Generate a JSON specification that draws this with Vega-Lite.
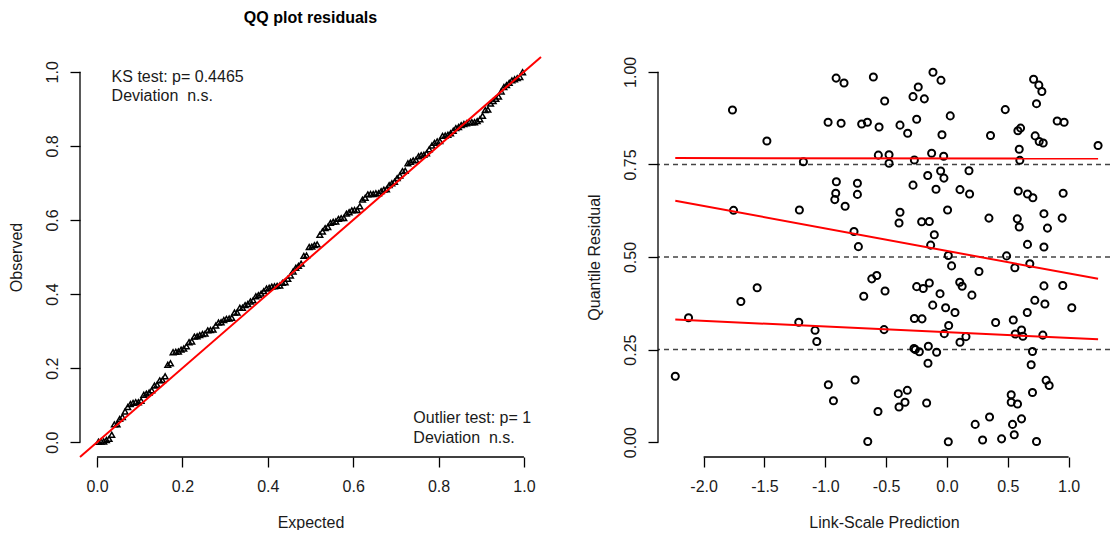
{
"$schema":"https://vega.github.io/schema/vega-lite/v6.json",
"padding":{"left":8,"top":10,"right":0,"bottom":0},
"background":"white",
"bounds":"flush",
"spacing":117,
"config":{
 "view":{"stroke":null},
 "font":"Liberation Sans",
 "axis":{"grid":false,"domain":false,"tickColor":"#000","tickWidth":1.3,"tickSize":10,"labelFont":"Liberation Sans","labelFontSize":16,"labelColor":"#1a1a1a","titleFont":"Liberation Sans","titleFontSize":16,"titleFontWeight":"normal","titleColor":"#1a1a1a","labelFlush":false,"labelOverlap":false},
 "axisX":{"labelPadding":11,"titlePadding":20},
 "axisY":{"labelAngle":270,"labelAlign":"center","labelBaseline":"middle","labelPadding":18,"titleAngle":270,"titlePadding":20},
 "title":{"font":"Liberation Sans","fontSize":16,"fontWeight":"bold","color":"#000"}
},
"datasets":{
"one":[{}],
"qq":[{"e":0.0031,"o":0.001},{"e":0.0094,"o":0.002},{"e":0.0156,"o":0.002},{"e":0.0219,"o":0.006},{"e":0.0281,"o":0.009},{"e":0.0344,"o":0.020},{"e":0.0406,"o":0.048},{"e":0.0469,"o":0.048},{"e":0.0531,"o":0.063},{"e":0.0594,"o":0.068},{"e":0.0656,"o":0.083},{"e":0.0719,"o":0.095},{"e":0.0781,"o":0.103},{"e":0.0844,"o":0.106},{"e":0.0906,"o":0.108},{"e":0.0969,"o":0.108},{"e":0.1031,"o":0.112},{"e":0.1094,"o":0.128},{"e":0.1156,"o":0.131},{"e":0.1219,"o":0.134},{"e":0.1281,"o":0.140},{"e":0.1344,"o":0.153},{"e":0.1406,"o":0.155},{"e":0.1469,"o":0.167},{"e":0.1531,"o":0.168},{"e":0.1594,"o":0.178},{"e":0.1656,"o":0.209},{"e":0.1719,"o":0.213},{"e":0.1781,"o":0.243},{"e":0.1844,"o":0.244},{"e":0.1906,"o":0.245},{"e":0.1969,"o":0.250},{"e":0.2031,"o":0.253},{"e":0.2094,"o":0.259},{"e":0.2156,"o":0.270},{"e":0.2219,"o":0.272},{"e":0.2281,"o":0.285},{"e":0.2344,"o":0.286},{"e":0.2406,"o":0.289},{"e":0.2469,"o":0.292},{"e":0.2531,"o":0.293},{"e":0.2594,"o":0.302},{"e":0.2656,"o":0.303},{"e":0.2719,"o":0.304},{"e":0.2781,"o":0.315},{"e":0.2844,"o":0.323},{"e":0.2906,"o":0.324},{"e":0.2969,"o":0.330},{"e":0.3031,"o":0.333},{"e":0.3094,"o":0.334},{"e":0.3156,"o":0.336},{"e":0.3219,"o":0.350},{"e":0.3281,"o":0.350},{"e":0.3344,"o":0.363},{"e":0.3406,"o":0.363},{"e":0.3469,"o":0.370},{"e":0.3531,"o":0.373},{"e":0.3594,"o":0.380},{"e":0.3656,"o":0.383},{"e":0.3719,"o":0.394},{"e":0.3781,"o":0.397},{"e":0.3844,"o":0.401},{"e":0.3906,"o":0.408},{"e":0.3969,"o":0.415},{"e":0.4031,"o":0.417},{"e":0.4094,"o":0.420},{"e":0.4156,"o":0.421},{"e":0.4219,"o":0.422},{"e":0.4281,"o":0.423},{"e":0.4344,"o":0.430},{"e":0.4406,"o":0.432},{"e":0.4469,"o":0.441},{"e":0.4531,"o":0.450},{"e":0.4594,"o":0.461},{"e":0.4656,"o":0.471},{"e":0.4719,"o":0.476},{"e":0.4781,"o":0.482},{"e":0.4844,"o":0.503},{"e":0.4906,"o":0.504},{"e":0.4969,"o":0.527},{"e":0.5031,"o":0.528},{"e":0.5094,"o":0.532},{"e":0.5156,"o":0.534},{"e":0.5219,"o":0.560},{"e":0.5281,"o":0.569},{"e":0.5344,"o":0.578},{"e":0.5406,"o":0.581},{"e":0.5469,"o":0.592},{"e":0.5531,"o":0.595},{"e":0.5594,"o":0.596},{"e":0.5656,"o":0.603},{"e":0.5719,"o":0.605},{"e":0.5781,"o":0.605},{"e":0.5844,"o":0.617},{"e":0.5906,"o":0.621},{"e":0.5969,"o":0.626},{"e":0.6031,"o":0.627},{"e":0.6094,"o":0.627},{"e":0.6156,"o":0.637},{"e":0.6219,"o":0.655},{"e":0.6281,"o":0.660},{"e":0.6344,"o":0.669},{"e":0.6406,"o":0.670},{"e":0.6469,"o":0.670},{"e":0.6531,"o":0.672},{"e":0.6594,"o":0.672},{"e":0.6656,"o":0.678},{"e":0.6719,"o":0.682},{"e":0.6781,"o":0.683},{"e":0.6844,"o":0.694},{"e":0.6906,"o":0.699},{"e":0.6969,"o":0.703},{"e":0.7031,"o":0.713},{"e":0.7094,"o":0.720},{"e":0.7156,"o":0.732},{"e":0.7219,"o":0.733},{"e":0.7281,"o":0.753},{"e":0.7344,"o":0.757},{"e":0.7406,"o":0.761},{"e":0.7469,"o":0.762},{"e":0.7531,"o":0.772},{"e":0.7594,"o":0.775},{"e":0.7656,"o":0.776},{"e":0.7719,"o":0.780},{"e":0.7781,"o":0.791},{"e":0.7844,"o":0.801},{"e":0.7906,"o":0.808},{"e":0.7969,"o":0.812},{"e":0.8031,"o":0.813},{"e":0.8094,"o":0.827},{"e":0.8156,"o":0.828},{"e":0.8219,"o":0.830},{"e":0.8281,"o":0.834},{"e":0.8344,"o":0.841},{"e":0.8406,"o":0.848},{"e":0.8469,"o":0.851},{"e":0.8531,"o":0.856},{"e":0.8594,"o":0.859},{"e":0.8656,"o":0.861},{"e":0.8719,"o":0.864},{"e":0.8781,"o":0.864},{"e":0.8844,"o":0.864},{"e":0.8906,"o":0.867},{"e":0.8969,"o":0.872},{"e":0.9031,"o":0.881},{"e":0.9094,"o":0.897},{"e":0.9156,"o":0.898},{"e":0.9219,"o":0.914},{"e":0.9281,"o":0.921},{"e":0.9344,"o":0.927},{"e":0.9406,"o":0.933},{"e":0.9469,"o":0.947},{"e":0.9531,"o":0.959},{"e":0.9594,"o":0.964},{"e":0.9656,"o":0.970},{"e":0.9719,"o":0.977},{"e":0.9781,"o":0.980},{"e":0.9844,"o":0.983},{"e":0.9906,"o":0.986},{"e":0.9969,"o":0.999}],
"res":[{"p":-1.763,"r":0.897},{"p":-1.480,"r":0.813},{"p":-1.180,"r":0.757},{"p":-1.754,"r":0.626},{"p":-1.213,"r":0.627},{"p":-2.124,"r":0.336},{"p":-1.694,"r":0.380},{"p":-1.560,"r":0.417},{"p":-1.218,"r":0.324},{"p":-2.233,"r":0.178},{"p":-1.084,"r":0.302},{"p":-1.070,"r":0.272},{"p":-0.975,"r":0.155},{"p":-0.933,"r":0.112},{"p":-0.911,"r":0.983},{"p":-0.846,"r":0.970},{"p":-0.605,"r":0.986},{"p":-0.115,"r":0.999},{"p":-0.049,"r":0.977},{"p":-0.236,"r":0.959},{"p":-0.279,"r":0.933},{"p":-0.186,"r":0.927},{"p":-0.512,"r":0.921},{"p":-0.977,"r":0.864},{"p":-0.870,"r":0.861},{"p":-0.701,"r":0.859},{"p":-0.654,"r":0.864},{"p":-0.558,"r":0.851},{"p":-0.386,"r":0.856},{"p":-0.249,"r":0.872},{"p":-0.323,"r":0.834},{"p":0.027,"r":0.881},{"p":-0.041,"r":0.830},{"p":-0.564,"r":0.775},{"p":-0.476,"r":0.776},{"p":-0.476,"r":0.753},{"p":-0.268,"r":0.762},{"p":-0.126,"r":0.780},{"p":-0.027,"r":0.772},{"p":-0.909,"r":0.703},{"p":-0.736,"r":0.699},{"p":-0.914,"r":0.672},{"p":-0.736,"r":0.669},{"p":-0.922,"r":0.655},{"p":-0.837,"r":0.637},{"p":-0.279,"r":0.694},{"p":-0.158,"r":0.720},{"p":-0.052,"r":0.732},{"p":-0.025,"r":0.713},{"p":-0.090,"r":0.683},{"p":0.107,"r":0.682},{"p":0.005,"r":0.627},{"p":-0.386,"r":0.621},{"p":-0.394,"r":0.592},{"p":-0.208,"r":0.595},{"p":-0.145,"r":0.596},{"p":-0.104,"r":0.560},{"p":-0.764,"r":0.569},{"p":-0.728,"r":0.528},{"p":-0.134,"r":0.532},{"p":0.011,"r":0.504},{"p":0.712,"r":0.980},{"p":0.755,"r":0.964},{"p":0.780,"r":0.947},{"p":0.736,"r":0.914},{"p":0.479,"r":0.898},{"p":0.906,"r":0.867},{"p":0.963,"r":0.864},{"p":0.605,"r":0.848},{"p":0.583,"r":0.841},{"p":0.358,"r":0.828},{"p":0.725,"r":0.827},{"p":0.758,"r":0.812},{"p":0.791,"r":0.808},{"p":1.242,"r":0.801},{"p":0.594,"r":0.791},{"p":0.599,"r":0.761},{"p":0.181,"r":0.733},{"p":0.186,"r":0.670},{"p":0.586,"r":0.678},{"p":0.662,"r":0.670},{"p":0.706,"r":0.660},{"p":0.955,"r":0.672},{"p":0.345,"r":0.605},{"p":0.578,"r":0.603},{"p":0.594,"r":0.581},{"p":0.797,"r":0.617},{"p":0.947,"r":0.605},{"p":0.826,"r":0.578},{"p":0.662,"r":0.534},{"p":0.797,"r":0.527},{"p":0.490,"r":0.503},{"p":0.038,"r":0.476},{"p":-0.618,"r":0.441},{"p":-0.577,"r":0.450},{"p":-0.509,"r":0.408},{"p":-0.684,"r":0.394},{"p":-0.249,"r":0.420},{"p":-0.195,"r":0.415},{"p":-0.145,"r":0.430},{"p":-0.057,"r":0.401},{"p":-0.117,"r":0.370},{"p":-0.011,"r":0.363},{"p":0.066,"r":0.350},{"p":0.105,"r":0.432},{"p":0.125,"r":0.421},{"p":-0.268,"r":0.334},{"p":-0.205,"r":0.333},{"p":0.014,"r":0.315},{"p":-0.022,"r":0.293},{"p":0.107,"r":0.270},{"p":-0.517,"r":0.304},{"p":-0.271,"r":0.253},{"p":-0.260,"r":0.250},{"p":-0.227,"r":0.244},{"p":-0.153,"r":0.259},{"p":-0.085,"r":0.243},{"p":-0.156,"r":0.213},{"p":-0.755,"r":0.168},{"p":-0.400,"r":0.131},{"p":-0.326,"r":0.140},{"p":-0.345,"r":0.108},{"p":-0.394,"r":0.095},{"p":-0.167,"r":0.106},{"p":-0.567,"r":0.083},{"p":-0.651,"r":0.002},{"p":0.011,"r":0.001},{"p":0.263,"r":0.461},{"p":0.558,"r":0.471},{"p":0.681,"r":0.482},{"p":0.205,"r":0.397},{"p":0.797,"r":0.422},{"p":0.952,"r":0.423},{"p":0.722,"r":0.383},{"p":0.805,"r":0.373},{"p":1.026,"r":0.363},{"p":0.660,"r":0.350},{"p":0.400,"r":0.323},{"p":0.545,"r":0.330},{"p":0.613,"r":0.303},{"p":0.561,"r":0.292},{"p":0.624,"r":0.286},{"p":0.788,"r":0.289},{"p":0.156,"r":0.285},{"p":0.703,"r":0.245},{"p":0.692,"r":0.209},{"p":0.815,"r":0.167},{"p":0.840,"r":0.153},{"p":0.703,"r":0.134},{"p":0.528,"r":0.128},{"p":0.528,"r":0.108},{"p":0.580,"r":0.103},{"p":0.350,"r":0.068},{"p":0.232,"r":0.048},{"p":0.613,"r":0.063},{"p":0.539,"r":0.048},{"p":0.293,"r":0.006},{"p":0.449,"r":0.009},{"p":0.553,"r":0.020},{"p":0.736,"r":0.002}],
"qlines":[{"q":"0.25","p":-2.233,"f":0.331},{"q":"0.25","p":1.242,"f":0.278},{"q":"0.5","p":-2.233,"f":0.652},{"q":"0.5","p":1.242,"f":0.441},{"q":"0.75","p":-2.233,"f":0.767},{"q":"0.75","p":1.242,"f":0.766}],
"hlines":[{"h":0.25},{"h":0.5},{"h":0.75}]
},
"hconcat":[
 {
  "width":461,"height":400,
  "title":{"text":"QQ plot residuals","offset":30},
  "encoding":{
   "x":{"type":"quantitative","scale":{"domain":[-0.04,1.04],"nice":false,"zero":false},"axis":{"values":[0,0.2,0.4,0.6,0.8,1],"format":".1f","title":"Expected"}},
   "y":{"type":"quantitative","scale":{"domain":[-0.04,1.04],"nice":false,"zero":false},"axis":{"values":[0,0.2,0.4,0.6,0.8,1],"format":".1f","title":"Observed"}}
  },
  "layer":[
   {"data":{"name":"qq"},
    "mark":{"type":"point","shape":"triangle-up","filled":false,"color":"#000","opacity":1,"size":32,"strokeWidth":1.5},
    "encoding":{"x":{"field":"e","type":"quantitative"},"y":{"field":"o","type":"quantitative"}}},
   {"data":{"name":"one"},"mark":{"type":"rule","color":"#ff0000","strokeWidth":2},
    "encoding":{"x":{"datum":-0.04},"y":{"datum":-0.04},"x2":{"datum":1.04},"y2":{"datum":1.04}}},
   {"data":{"name":"one"},"mark":{"type":"rule","color":"#000","strokeWidth":1.3},
    "encoding":{"x":{"datum":0},"x2":{"datum":1},"y":{"datum":-0.04}}},
   {"data":{"name":"one"},"mark":{"type":"rule","color":"#000","strokeWidth":1.3},
    "encoding":{"y":{"datum":0},"y2":{"datum":1},"x":{"datum":-0.04}}},
   {"data":{"name":"one"},"mark":{"type":"text","align":"left","baseline":"middle","fontSize":16,"color":"#1a1a1a","font":"Liberation Sans"},
    "encoding":{"x":{"datum":0.034},"y":{"datum":0.985},"text":{"value":"KS test: p= 0.4465"}}},
   {"data":{"name":"one"},"mark":{"type":"text","align":"left","baseline":"middle","fontSize":16,"color":"#1a1a1a","font":"Liberation Sans"},
    "encoding":{"x":{"datum":0.034},"y":{"datum":0.934},"text":{"value":"Deviation\u00a0 n.s."}}},
   {"data":{"name":"one"},"mark":{"type":"text","align":"left","baseline":"middle","fontSize":16,"color":"#1a1a1a","font":"Liberation Sans"},
    "encoding":{"x":{"datum":0.741},"y":{"datum":0.065},"text":{"value":"Outlier test: p= 1"}}},
   {"data":{"name":"one"},"mark":{"type":"text","align":"left","baseline":"middle","fontSize":16,"color":"#1a1a1a","font":"Liberation Sans"},
    "encoding":{"x":{"datum":0.741},"y":{"datum":0.011},"text":{"value":"Deviation\u00a0 n.s."}}}
  ]
 },
 {
  "width":452,"height":400,
  "encoding":{
   "x":{"type":"quantitative","scale":{"domain":[-2.375,1.34],"nice":false,"zero":false},"axis":{"values":[-2,-1.5,-1,-0.5,0,0.5,1],"labelExpr":"replace(format(datum.value, '.1f'), '\u2212', '-')","title":"Link-Scale Prediction"}},
   "y":{"type":"quantitative","scale":{"domain":[-0.04,1.04],"nice":false,"zero":false},"axis":{"values":[0,0.25,0.5,0.75,1],"format":".2f","title":"Quantile Residual"}}
  },
  "layer":[
   {"data":{"name":"hlines"},
    "mark":{"type":"rule","color":"#444","strokeWidth":1.5,"strokeDash":[5,4]},
    "encoding":{"y":{"field":"h","type":"quantitative"}}},
   {"data":{"name":"res"},
    "mark":{"type":"point","shape":"circle","filled":false,"color":"#000","opacity":1,"size":50,"strokeWidth":2},
    "encoding":{"x":{"field":"p","type":"quantitative"},"y":{"field":"r","type":"quantitative"}}},
   {"data":{"name":"qlines"},
    "mark":{"type":"line","color":"#ff0000","strokeWidth":2},
    "encoding":{"x":{"field":"p","type":"quantitative"},"y":{"field":"f","type":"quantitative"},"detail":{"field":"q","type":"nominal"}}},
   {"data":{"name":"one"},"mark":{"type":"rule","color":"#000","strokeWidth":1.3},
    "encoding":{"x":{"datum":-2},"x2":{"datum":1},"y":{"datum":-0.04}}},
   {"data":{"name":"one"},"mark":{"type":"rule","color":"#000","strokeWidth":1.3},
    "encoding":{"y":{"datum":0},"y2":{"datum":1},"x":{"datum":-2.375}}}
  ]
 }
]
}
